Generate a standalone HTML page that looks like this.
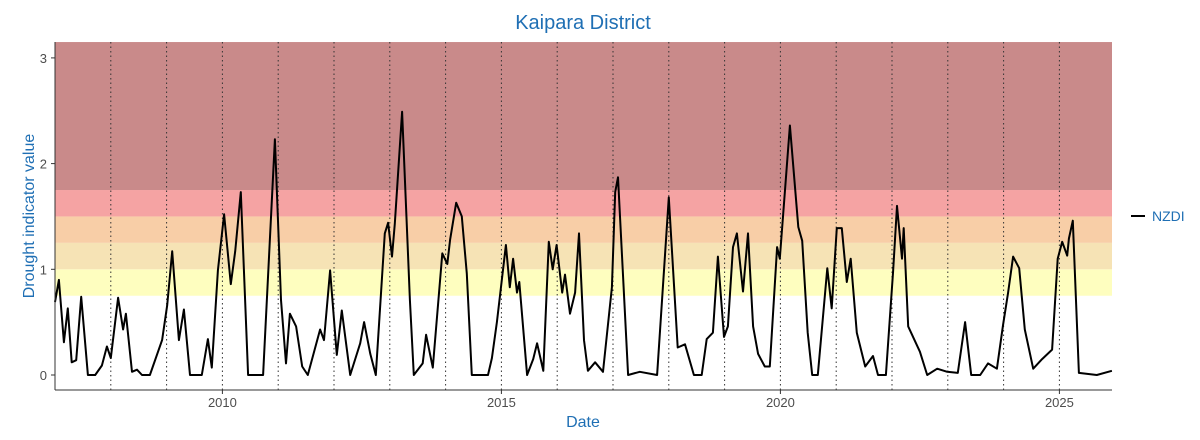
<!DOCTYPE html>
<html><head><meta charset="utf-8"><style>
body{margin:0;background:#fff;font-family:"Liberation Sans",sans-serif;}
</style></head><body>
<svg id="chart" width="1200" height="435" xmlns="http://www.w3.org/2000/svg">
<text x="583" y="29" text-anchor="middle" font-size="20" fill="#1f6fb4">Kaipara District</text>
<g id="bands"></g>
<g id="grid"></g>
<g id="series"></g>
<g id="axes"></g>
<text x="583" y="427" text-anchor="middle" font-size="16" fill="#1f6fb4">Date</text>
<text transform="translate(34,216) rotate(-90)" text-anchor="middle" font-size="16" fill="#1f6fb4">Drought indicator value</text>
<g>
<line x1="1131" y1="216" x2="1145" y2="216" stroke="#000" stroke-width="2"/>
<text x="1152" y="221" font-size="14" fill="#1f6fb4">NZDI</text>
</g>
</svg>
<script>
const dates=[2007.00,2007.07,2007.16,2007.23,2007.30,2007.38,2007.47,2007.59,2007.72,2007.84,2007.93,2008.00,2008.13,2008.22,2008.27,2008.38,2008.47,2008.56,2008.70,2008.92,2009.01,2009.10,2009.22,2009.31,2009.42,2009.63,2009.74,2009.81,2009.92,2010.03,2010.15,2010.23,2010.33,2010.46,2010.73,2010.94,2011.05,2011.14,2011.21,2011.32,2011.43,2011.53,2011.75,2011.82,2011.93,2012.05,2012.14,2012.29,2012.47,2012.54,2012.65,2012.75,2012.91,2012.97,2013.04,2013.09,2013.22,2013.36,2013.43,2013.59,2013.65,2013.77,2013.94,2014.03,2014.08,2014.19,2014.29,2014.38,2014.47,2014.76,2014.83,2014.92,2015.08,2015.15,2015.21,2015.28,2015.32,2015.46,2015.57,2015.64,2015.75,2015.85,2015.92,2015.99,2016.09,2016.14,2016.23,2016.32,2016.39,2016.48,2016.55,2016.68,2016.82,2016.98,2017.04,2017.09,2017.27,2017.48,2017.79,2018.00,2018.16,2018.29,2018.45,2018.59,2018.68,2018.79,2018.88,2018.99,2019.06,2019.15,2019.22,2019.33,2019.42,2019.51,2019.60,2019.72,2019.81,2019.94,2019.99,2020.17,2020.32,2020.39,2020.49,2020.57,2020.67,2020.84,2020.92,2021.01,2021.10,2021.19,2021.26,2021.37,2021.52,2021.66,2021.75,2021.89,2022.02,2022.09,2022.18,2022.21,2022.29,2022.50,2022.63,2022.81,2022.99,2023.18,2023.31,2023.42,2023.58,2023.72,2023.88,2023.99,2024.08,2024.17,2024.28,2024.38,2024.53,2024.69,2024.87,2024.97,2025.05,2025.14,2025.17,2025.24,2025.35,2025.67,2025.94];
const values=[0.69,0.90,0.31,0.63,0.12,0.14,0.74,0,0,0.09,0.27,0.16,0.73,0.43,0.58,0.03,0.05,0,0,0.33,0.66,1.17,0.33,0.62,0,0,0.34,0.07,0.99,1.52,0.86,1.17,1.73,0,0,2.23,0.71,0.11,0.58,0.46,0.08,0,0.43,0.33,0.99,0.19,0.61,0,0.30,0.50,0.20,0,1.34,1.44,1.12,1.43,2.49,0.71,0,0.11,0.38,0.07,1.15,1.05,1.28,1.63,1.50,0.96,0,0,0.16,0.50,1.23,0.83,1.10,0.78,0.88,0,0.15,0.30,0.04,1.26,1.00,1.23,0.78,0.95,0.58,0.78,1.34,0.33,0.04,0.12,0.03,0.83,1.73,1.87,0,0.03,0,1.68,0.26,0.29,0,0,0.34,0.40,1.12,0.36,0.46,1.21,1.34,0.79,1.34,0.46,0.20,0.08,0.08,1.21,1.10,2.36,1.40,1.27,0.40,0,0,1.01,0.63,1.39,1.39,0.88,1.10,0.40,0.08,0.18,0,0,0.98,1.60,1.10,1.39,0.46,0.22,0,0.06,0.03,0.02,0.50,0,0,0.11,0.06,0.47,0.78,1.12,1.01,0.43,0.06,0.15,0.24,1.10,1.26,1.13,1.29,1.46,0.02,0,0.04];
const yTicks=[0,1,2,3];
const xTicks=[2010,2015,2020,2025];
const yearLines=[2008,2009,2010,2011,2012,2013,2014,2015,2016,2017,2018,2019,2020,2021,2022,2023,2024,2025];
const bandLo=[0.75,1,1.25,1.5,1.75];
const bandHi=[1,1.25,1.5,1.75,3.15];
const bandColors=["#fefebf","#f6e3b5","#f8cea7","#f5a3a3","#c98a8a"];
const X0=55,X1=1112,YT=42,YB=390;
const xs=y=>55+55.8*(y-2007);
const ys=v=>375-105.7*v;
const NS="http://www.w3.org/2000/svg";
function mk(t,p,a){const e=document.createElementNS(NS,t);for(const k in a)e.setAttribute(k,a[k]);p.appendChild(e);return e;}
const bands=document.getElementById('bands');
bandLo.forEach((lo,i)=>{
 const r=mk('rect',bands,{x:X0,y:ys(bandHi[i]),width:X1-X0,height:ys(lo)-ys(bandHi[i]),fill:bandColors[i]});
 
 
});
const grid=document.getElementById('grid');
yearLines.forEach(y=>{
 const l=mk('line',grid,{x1:xs(y),x2:xs(y),y1:YT,y2:YB,stroke:'#333','stroke-width':1,'stroke-dasharray':'1.5,3'});
 
 
});
const s=document.getElementById('series');
const p=mk('path',s,{d:dates.map((d,i)=>(i?'L':'M')+xs(d).toFixed(1)+','+ys(values[i]).toFixed(1)).join(''),fill:'none',stroke:'#000','stroke-width':2,'stroke-linejoin':'round'});


const ax=document.getElementById('axes');
mk('line',ax,{x1:X0,x2:X0,y1:YT,y2:YB,stroke:'#333','stroke-width':1});
mk('line',ax,{x1:X0,x2:X1,y1:YB,y2:YB,stroke:'#333','stroke-width':1});
yTicks.forEach(v=>{
 mk('line',ax,{x1:X0-4,x2:X0,y1:ys(v),y2:ys(v),stroke:'#333'});
 const t=mk('text',ax,{x:X0-8,y:ys(v)+5,'text-anchor':'end','font-size':13,fill:'#4d4d4d'});
 t.textContent=v;
 
 
});
xTicks.forEach(v=>{
 mk('line',ax,{x1:xs(v),x2:xs(v),y1:YB,y2:YB+4,stroke:'#333'});
 const t=mk('text',ax,{x:xs(v),y:YB+17,'text-anchor':'middle','font-size':13,fill:'#4d4d4d'});
 t.textContent=v;
 
 
});
</script>
</body></html>
